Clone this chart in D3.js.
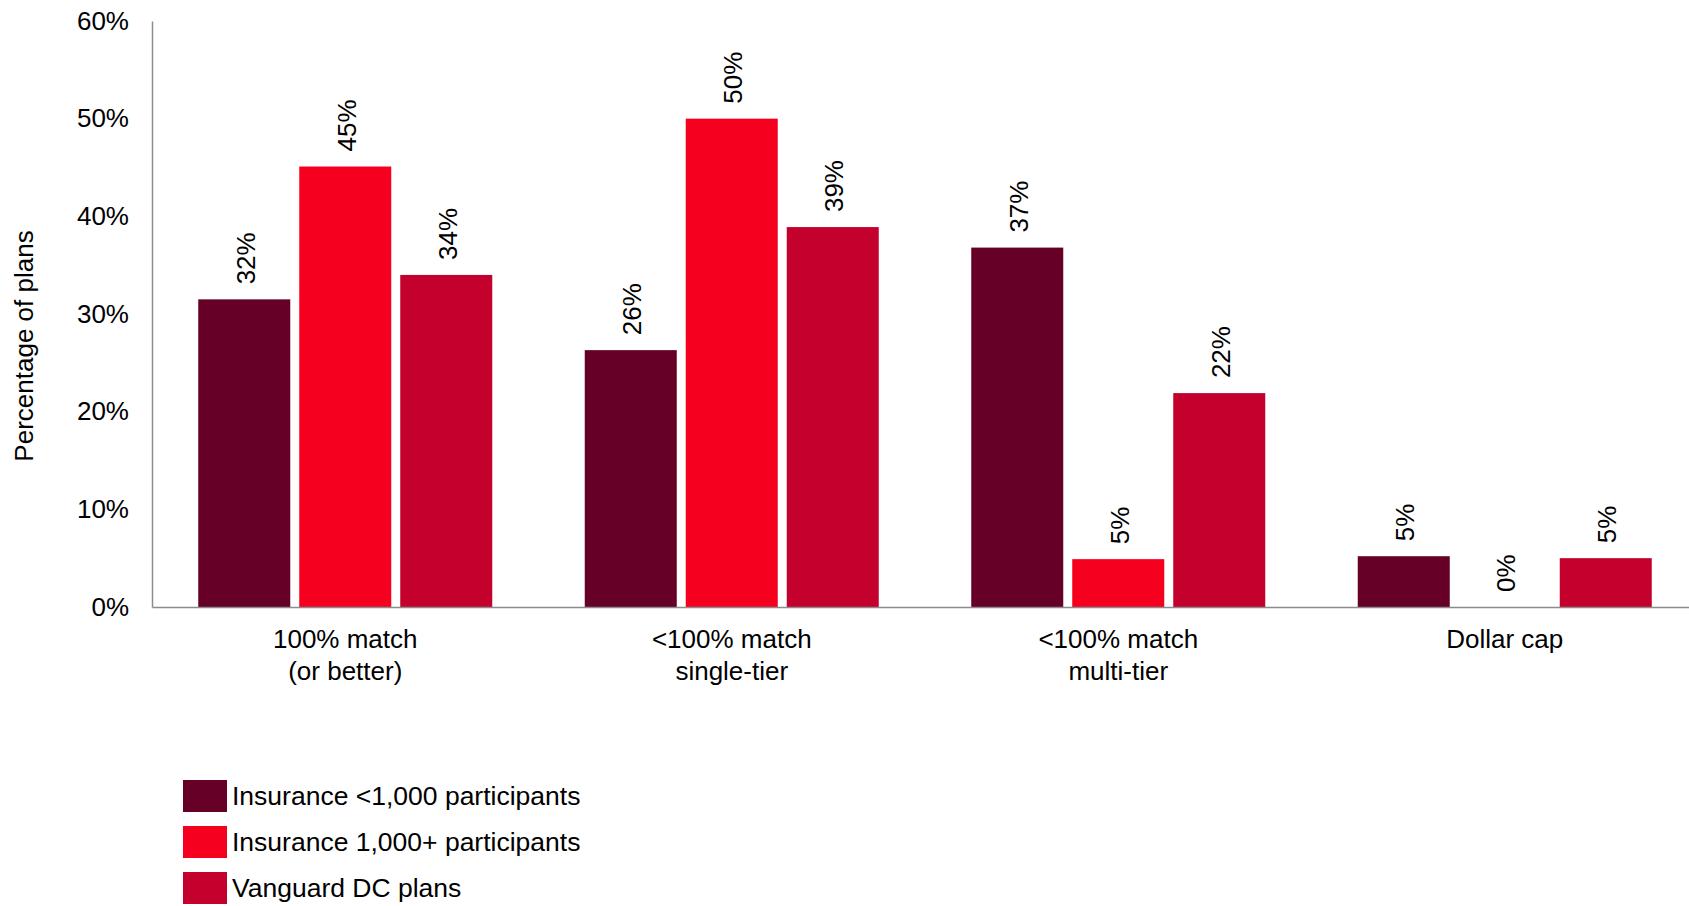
<!DOCTYPE html>
<html>
<head>
<meta charset="utf-8">
<script src="https://cdn.jsdelivr.net/npm/d3@7/dist/d3.min.js"></script>
<style>
  html, body { margin: 0; padding: 0; background: #fff; }
  svg { display: block; font-family: "Liberation Sans", Arial, sans-serif; }
</style>
</head>
<body>
<svg id="chart" width="1689" height="906"></svg>
<script>
// Employer match formula by plan type
const categories = [
  ["100% match", "(or better)"],
  ["<100% match", "single-tier"],
  ["<100% match", "multi-tier"],
  ["Dollar cap"]
];
const seriesNames = [
  "Insurance <1,000 participants",
  "Insurance 1,000+ participants",
  "Vanguard DC plans"
];
const seriesColors = ["#660026", "#F5001F", "#C4002C"];
// percentage of plans, one list per series (in category order)
const insuranceSmall = [31.5, 26.3, 36.8, 5.2];
const insuranceLarge = [45.1, 50.0, 4.9, 0];
const vanguardDC = [34.0, 38.9, 21.9, 5.0];
const yTicks = [0, 10, 20, 30, 40, 50, 60];

const seriesValues = [insuranceSmall, insuranceLarge, vanguardDC];

const svg = d3.select("#chart");
const plotLeft = 152, plotRight = 1698, plotTop = 21, plotBottom = 607;

const y = d3.scaleLinear().domain([0, 60]).range([plotBottom, plotTop]);

const x0 = d3.scaleBand()
  .domain(d3.range(categories.length))
  .range([plotLeft, plotRight])
  .paddingInner(0.2393)
  .paddingOuter(0.2393 / 2);

const x1 = d3.scaleBand()
  .domain(d3.range(seriesNames.length))
  .range([0, x0.bandwidth()])
  .paddingInner(0.089);

// bars
const groups = svg.append("g").selectAll("g")
  .data(categories.map((c, i) => i))
  .join("g")
  .attr("transform", i => `translate(${x0(i)},0)`);

groups.selectAll("rect")
  .data(i => seriesValues.map((vals, s) => ({ s, v: vals[i] })))
  .join("rect")
  .attr("x", d => x1(d.s))
  .attr("width", x1.bandwidth())
  .attr("y", d => y(d.v))
  .attr("height", d => y(0) - y(d.v))
  .attr("fill", d => seriesColors[d.s]);

// value labels, rotated above each bar
groups.selectAll("text")
  .data(i => seriesValues.map((vals, s) => ({ s, v: vals[i] })))
  .join("text")
  .attr("transform", d => `translate(${x1(d.s) + x1.bandwidth() / 2 + 1},${y(d.v) - 15}) rotate(-90)`)
  .attr("dy", "0.36em")
  .attr("text-anchor", "start")
  .attr("font-size", 26)
  .attr("fill", "#000")
  .text(d => Math.round(d.v) + "%");

// y axis
const yAxis = svg.append("g")
  .attr("transform", `translate(${plotLeft},0)`)
  .call(d3.axisLeft(y).tickValues(yTicks).tickSize(0).tickPadding(23).tickFormat(d => d + "%"));
yAxis.select(".domain").attr("stroke", "#8c8c8c").attr("stroke-width", 1.5);
yAxis.selectAll("text")
  .attr("font-family", "'Liberation Sans', Arial, sans-serif")
  .attr("font-size", 26)
  .attr("fill", "#000");

// x axis
const xAxis = svg.append("g")
  .attr("transform", `translate(0,${plotBottom})`)
  .call(d3.axisBottom(x0).tickSize(0).tickFormat(""));
xAxis.select(".domain").attr("stroke", "#8c8c8c").attr("stroke-width", 1.5);

// category labels (multi-line)
svg.append("g").selectAll("text")
  .data(categories)
  .join("text")
  .attr("x", (d, i) => x0(i) + x0.bandwidth() / 2)
  .attr("y", 648)
  .attr("text-anchor", "middle")
  .attr("font-size", 26)
  .attr("fill", "#000")
  .selectAll("tspan")
  .data(d => d)
  .join("tspan")
  .attr("x", function () { return this.parentNode.getAttribute("x"); })
  .attr("dy", (d, j) => j === 0 ? 0 : 32)
  .text(d => d);

// y axis title
svg.append("text")
  .attr("transform", "translate(33,346) rotate(-90)")
  .attr("text-anchor", "middle")
  .attr("font-size", 26)
  .attr("fill", "#000")
  .text("Percentage of plans");

// legend
const legend = svg.append("g").attr("transform", "translate(183,780)");
const items = legend.selectAll("g")
  .data(seriesNames)
  .join("g")
  .attr("transform", (d, i) => `translate(0,${i * 46})`);
items.append("rect")
  .attr("width", 44)
  .attr("height", 32)
  .attr("fill", (d, i) => seriesColors[i]);
items.append("text")
  .attr("x", 49)
  .attr("y", 25)
  .attr("font-size", 26.5)
  .attr("fill", "#000")
  .text(d => d);
</script>
</body>
</html>
